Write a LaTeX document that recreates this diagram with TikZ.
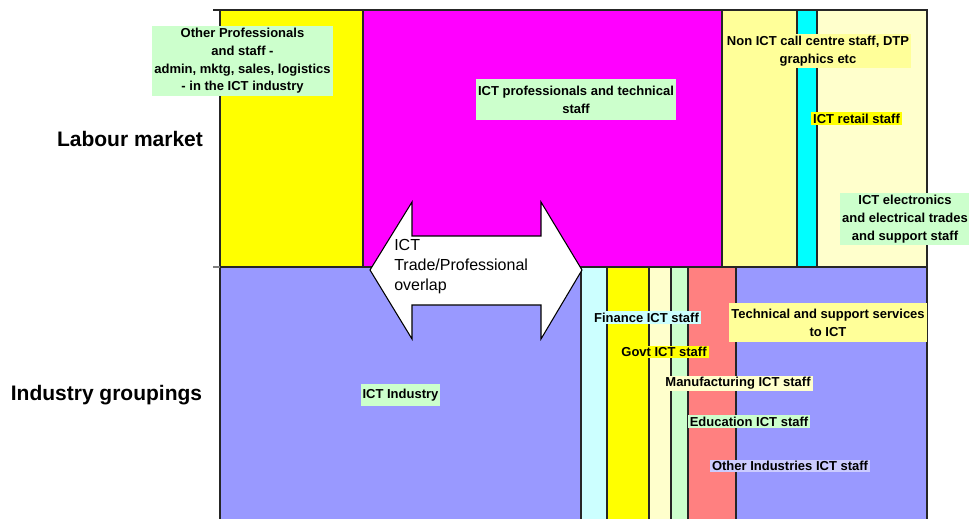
\documentclass[tikz,border=0pt]{standalone}
\usepackage{fontspec}
\setmainfont{Liberation Sans}
\usepackage{xcolor}
\usepackage{tikz}
\usetikzlibrary{shapes.geometric, arrows}
\definecolor{jaune}{HTML}{FFFF00}
\definecolor{magenta2}{HTML}{FF00FF}
\definecolor{jauneclair}{HTML}{FFFF99}
\definecolor{jaunepale}{HTML}{FFFFCC}
\definecolor{cyan2}{HTML}{00FFFF}
\definecolor{cyanclair}{HTML}{CCFFFF}
\definecolor{lavande}{HTML}{9999FF}
\definecolor{lavandeclair}{HTML}{CCCCFF}
\definecolor{vertclair}{HTML}{CCFFCC}
\definecolor{saumon}{HTML}{FF8080}
\tikzstyle{zone} = [draw=black!85, line width=0.9pt]
\tikzstyle{etiq} = [rectangle, inner xsep=1.5pt, inner ysep=1.5pt, text centered, align=center, font=\bfseries\fontsize{9.75}{13.3}\selectfont]
\tikzstyle{titre} = [font=\bfseries\fontsize{15.75}{18}\selectfont]
\tikzstyle{fleche} = [draw=black, fill=white, line width=0.8pt]

\begin{document}
\begin{tikzpicture}[x=0.75pt, y=-0.75pt]
        \useasboundingbox (0,0) rectangle (969,518);

        % labour market
        \draw [zone, fill=jaune] (220,10) rectangle (363,267);
        \draw [zone, fill=magenta2] (363,10) rectangle (722,267);
        \draw [zone, fill=jauneclair] (722,10) rectangle (797,267);
        \draw [zone, fill=cyan2] (797,10) rectangle (817,267);
        \draw [zone, fill=jaunepale] (817,10) rectangle (927,267);

        % industry groupings
        \draw [zone, fill=lavande] (220,267) rectangle (581,525);
        \draw [zone, fill=cyanclair] (581,267) rectangle (607,525);
        \draw [zone, fill=jaune] (607,267) rectangle (649,525);
        \draw [zone, fill=jaunepale] (649,267) rectangle (671,525);
        \draw [zone, fill=vertclair] (671,267) rectangle (688,525);
        \draw [zone, fill=saumon] (688,267) rectangle (736,525);
        \draw [zone, fill=lavande] (736,267) rectangle (927,525);

        \draw [zone] (213,10) -- (220,10);
        \draw [zone, draw=gray] (213,267) -- (220,267);

        \draw [fleche] (370,270) -- (412,202) -- (412,236) -- (541,236) -- (541,202) -- (582,270)
              -- (541,339) -- (541,305) -- (412,305) -- (412,339) -- cycle;
        \node (chev) [align=left, anchor=west, inner sep=0pt, font=\fontsize{12}{15}\selectfont] at (394,267) {ICT\\Trade/Professional\\overlap};

        \node (lm) [titre] at (130,139) {Labour market};
        \node (ig) [titre] at (106.5,395) {Industry groupings};

        \node (autres) [etiq, fill=vertclair] at (242.5,61) {Other Professionals\\and staff -\\admin, mktg, sales, logistics\\- in the ICT industry};
        \node (prof) [etiq, fill=vertclair, inner ysep=5.5pt] at (576,99.5) {ICT professionals and technical\\staff};
        \node (nonict) [etiq, fill=jauneclair] at (818,51) {Non ICT call centre staff, DTP\\graphics etc};
        \node (retail) [etiq, fill=jaune, inner ysep=1pt] at (856.5,118.5) {ICT retail staff};
        \node (elec) [etiq, fill=vertclair] at (905,219) {ICT electronics\\and electrical trades\\and support staff};
        \node (tech) [etiq, fill=jauneclair, inner ysep=4.5pt] at (828,322.5) {Technical and support services\\to ICT};
        \node (fin) [etiq, fill=cyanclair, inner ysep=1pt] at (646.5,317.5) {Finance ICT staff};
        \node (govt) [etiq, fill=jaune, inner ysep=1pt] at (664,352) {Govt ICT staff};
        \node (manuf) [etiq, fill=jaunepale, inner ysep=1pt] at (738,383.5) {Manufacturing ICT staff};
        \node (educ) [etiq, fill=vertclair, inner ysep=1pt] at (749,421.5) {Education ICT staff};
        \node (autind) [etiq, fill=lavandeclair, inner ysep=1pt] at (790,466) {Other Industries ICT staff};
        \node (ictind) [etiq, fill=vertclair, inner ysep=4pt] at (400.5,395) {ICT Industry};
    \end{tikzpicture}
\end{document}
